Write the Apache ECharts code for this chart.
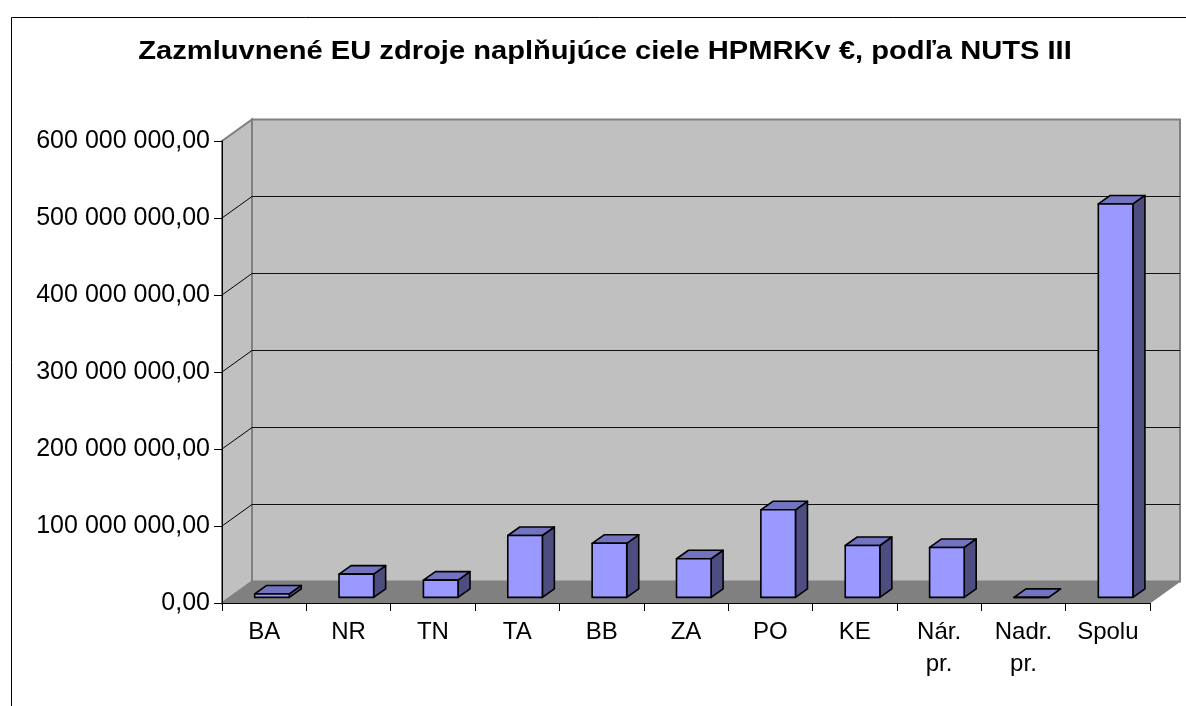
<!DOCTYPE html>
<html>
<head>
<meta charset="utf-8">
<title>Zazmluvnené EU zdroje podľa NUTS III</title>
<script src="https://cdn.jsdelivr.net/npm/echarts@6/dist/echarts.min.js"></script>
<style>
  html, body { margin: 0; padding: 0; background: #fff; }
  #chart { width: 1186px; height: 706px; }
</style>
</head>
<body>
<div id="chart"></div>
<script>
const categories = ['BA', 'NR', 'TN', 'TA', 'BB', 'ZA', 'PO', 'KE', 'Nár.\npr.', 'Nadr.\npr.', 'Spolu']
const values = [4500000, 30300000, 22500000, 80400000, 70300000, 50200000, 113800000, 67400000, 64900000, 0, 511000000]
const yTicks = [0, 100000000, 200000000, 300000000, 400000000, 500000000, 600000000]
const chartTitle = 'Zazmluvnené EU zdroje naplňujúce ciele HPMRKv €, podľa NUTS III'

// 3D look: depth of the walls and of the bars (pixels)
const DX = 30
const DY = 21.5
const BAR_SHIFT = 0.26
const BAR_DX = 12
const BAR_DY = 8.5
const BAR_FRAC = 0.41

const FONT = 'Liberation Sans, Arial, sans-serif'

const formatNum = (v) => {
  const s = String(Math.round(v))
  return s.replace(/\B(?=(\d{3})+(?!\d))/g, ' ') + ',00'
}

const renderWalls = (params, api) => {
  const cs = params.coordSys
  const x0 = cs.x, x1 = cs.x + cs.width
  const yb = api.coord([0, yTicks[0]])[1]
  const yt = api.coord([0, yTicks[yTicks.length - 1]])[1]
  const children = []
  // back wall
  children.push({
    type: 'polygon',
    shape: { points: [[x0 + DX, yt - DY], [x1 + DX, yt - DY], [x1 + DX, yb - DY], [x0 + DX, yb - DY]] },
    style: { fill: '#c0c0c0', stroke: '#808080', lineWidth: 2 }
  })
  // left side wall
  children.push({
    type: 'polygon',
    shape: { points: [[x0, yb], [x0, yt], [x0 + DX, yt - DY], [x0 + DX, yb - DY]] },
    style: { fill: '#c0c0c0', stroke: '#808080', lineWidth: 2 }
  })
  // floor
  children.push({
    type: 'polygon',
    shape: { points: [[x0, yb], [x1, yb], [x1 + DX, yb - DY], [x0 + DX, yb - DY]] },
    style: { fill: '#808080', stroke: '#808080', lineWidth: 1 }
  })
  // gridlines on walls
  yTicks.slice(1, -1).forEach(v => {
    const y = api.coord([0, v])[1]
    children.push({
      type: 'line',
      shape: { x1: x0, y1: y, x2: x0 + DX, y2: y - DY },
      style: { stroke: '#000', lineWidth: 1 }
    })
    children.push({
      type: 'line',
      shape: { x1: x0 + DX, y1: y - DY, x2: x1 + DX, y2: y - DY },
      style: { stroke: '#111', lineWidth: 1 }
    })
  })
  return { type: 'group', children }
}

const renderBar = (params, api) => {
  const idx = api.value(0)
  const top = api.coord([idx, api.value(1)])
  const base = api.coord([idx, 0])
  const w = api.size([1, 0])[0] * BAR_FRAC
  const l = top[0] - w / 2 + DX * BAR_SHIFT
  const r = l + w
  const t = top[1] - DY * BAR_SHIFT
  const b = base[1] - DY * BAR_SHIFT
  const stroke = { stroke: '#000', lineWidth: 1.6, lineJoin: 'round' }
  return {
    type: 'group',
    children: [
      {
        type: 'polygon',
        shape: { points: [[r, t], [r + BAR_DX, t - BAR_DY], [r + BAR_DX, b - BAR_DY], [r, b]] },
        style: { fill: '#4d4d80', ...stroke }
      },
      {
        type: 'polygon',
        shape: { points: [[l, t], [r, t], [r + BAR_DX, t - BAR_DY], [l + BAR_DX, t - BAR_DY]] },
        style: { fill: '#7373c0', ...stroke }
      },
      {
        type: 'polygon',
        shape: { points: [[l, t], [r, t], [r, b], [l, b]] },
        style: { fill: '#9999ff', ...stroke }
      }
    ]
  }
}

const chart = echarts.init(document.getElementById('chart'))

chart.setOption({
  backgroundColor: '#fff',
  animation: false,
  textStyle: { fontFamily: FONT },
  graphic: [
    {
      type: 'rect',
      shape: { x: 11.5, y: 17.5, width: 1300, height: 800 },
      style: { fill: 'none', stroke: '#000', lineWidth: 1 },
      silent: true
    },
    {
      // the original title is set wider than the font, so stretch it a little
      type: 'text',
      x: 605,
      y: 52,
      scaleX: 1.12,
      style: {
        text: chartTitle,
        fill: '#000',
        font: 'bold 26px ' + FONT,
        align: 'center',
        verticalAlign: 'middle'
      }
    }
  ],
  grid: { left: 222, right: 36, top: 141, bottom: 103 },
  xAxis: {
    type: 'category',
    data: categories,
    z: 5,
    axisLine: { lineStyle: { color: '#000', width: 1 } },
    axisTick: { show: true, length: 8, lineStyle: { color: '#000' } },
    axisLabel: { color: '#000', fontSize: 24, lineHeight: 32, margin: 13, interval: 0 }
  },
  yAxis: {
    type: 'value',
    min: yTicks[0],
    max: yTicks[yTicks.length - 1],
    interval: yTicks[1] - yTicks[0],
    z: 5,
    axisLine: { show: true, lineStyle: { color: '#000', width: 1 } },
    axisTick: { show: true, length: 8, lineStyle: { color: '#000' } },
    splitLine: { show: false },
    axisLabel: { color: '#000', fontSize: 25, margin: 12, formatter: formatNum }
  },
  series: [
    {
      type: 'custom',
      name: 'walls',
      z: 1,
      silent: true,
      renderItem: renderWalls,
      data: [[0, 0]]
    },
    {
      type: 'custom',
      name: 'EU zdroje',
      z: 3,
      renderItem: renderBar,
      data: values.map((v, i) => [i, v])
    }
  ]
})
</script>
</body>
</html>
